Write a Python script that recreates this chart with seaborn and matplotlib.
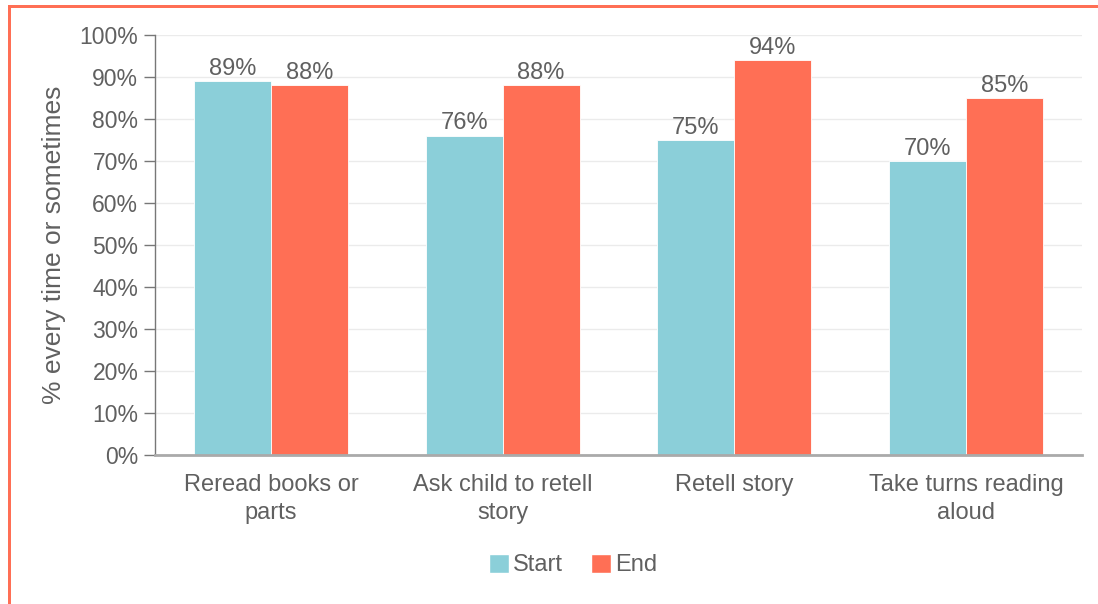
import matplotlib
matplotlib.use("Agg")
import matplotlib.pyplot as plt
from matplotlib.patches import Rectangle, Patch
import seaborn as sns
import pandas as pd

# Survey results: share of parents doing each activity every time or sometimes
activities = ["Reread books or\nparts", "Ask child to retell\nstory", "Retell story",
              "Take turns reading\naloud"]
start_pct = [89, 76, 75, 70]
end_pct = [88, 88, 94, 85]
periods = ["Start", "End"]
y_ticks = [0, 10, 20, 30, 40, 50, 60, 70, 80, 90, 100]

TEAL = "#8BCFD9"
CORAL = "#FF6F55"
TEXT = "#606060"

df = pd.DataFrame({
    "activity": activities * 2,
    "pct": start_pct + end_pct,
    "period": [periods[0]] * len(activities) + [periods[1]] * len(activities),
})

sns.set_theme(style="white")
plt.rcParams["font.family"] = ["Liberation Sans", "DejaVu Sans"]

fig = plt.figure(figsize=(10.98, 6.04), dpi=100)
ax = fig.add_axes([155 / 1098, 1 - 455 / 604, (1082 - 155) / 1098, (455 - 35) / 604])

sns.barplot(data=df, x="activity", y="pct", hue="period", order=activities,
            hue_order=periods, palette=[TEAL, CORAL], saturation=1, width=0.664,
            gap=0, edgecolor="white", linewidth=0.6, ax=ax, legend=False)

for container in ax.containers:
    ax.bar_label(container, labels=[f"{v:.0f}%" for v in container.datavalues],
                 padding=1, fontsize=17, color=TEXT)

ax.set_xlim(-0.5, len(activities) - 0.5)
ax.set_ylim(0, 100)
ax.set_yticks(y_ticks)
ax.set_yticklabels([f"{t}%" for t in y_ticks])
ax.yaxis.grid(True, color="#EBEBEB", linewidth=1)
ax.set_axisbelow(True)

ax.tick_params(axis="y", which="both", left=True, length=8, width=1, color="#777777",
               labelsize=16.5, labelcolor=TEXT, pad=4)
ax.tick_params(axis="x", bottom=False, labelsize=17, labelcolor=TEXT, pad=8)
for lbl in ax.get_xticklabels():
    lbl.set_linespacing(1.3)

for side in ("top", "right"):
    ax.spines[side].set_visible(False)
ax.spines["left"].set_color("#777777")
ax.spines["left"].set_linewidth(1)
ax.spines["bottom"].set_color("#AAAAAA")
ax.spines["bottom"].set_linewidth(2)

ax.set_xlabel("")
ax.set_ylabel("% every time or sometimes", fontsize=19, color=TEXT, labelpad=10)

handles = [Patch(facecolor=TEAL, label=periods[0]), Patch(facecolor=CORAL, label=periods[1])]
fig.legend(handles=handles, loc="center", bbox_to_anchor=(573 / 1098, 1 - 565 / 604),
           ncol=2, frameon=False, fontsize=17, labelcolor=TEXT, handlelength=0.85,
           handleheight=0.85, handletextpad=0.15, columnspacing=1.2)

# Frame accents along the top and left edges
fig.add_artist(Rectangle((8 / 1098, 1 - 8 / 604), 1 - 8 / 1098, 3 / 604,
                         transform=fig.transFigure, facecolor=CORAL, edgecolor="none"))
fig.add_artist(Rectangle((8 / 1098, 0), 3 / 1098, 1 - 5 / 604,
                         transform=fig.transFigure, facecolor=CORAL, edgecolor="none"))

fig.savefig("out.png", dpi=100, facecolor="white")
